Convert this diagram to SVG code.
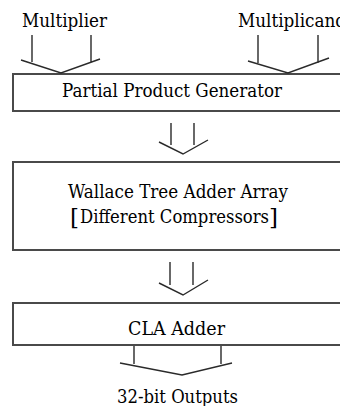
<svg xmlns="http://www.w3.org/2000/svg" width="340" height="406" viewBox="0 0 340 406">
<style>
.box{fill:#fff;stroke:#4a4a4a;stroke-width:2}
.t{font-family:'DejaVu Serif','Liberation Serif',serif;font-size:18px;fill:#000}
.br{font-family:'DejaVu Serif','Liberation Serif',serif;font-size:23px;fill:#000;font-weight:300}
.arr{fill:none;stroke:#2a2a2a;stroke-width:1.4;stroke-linejoin:miter}
</style>
<rect width="340" height="406" fill="#fff"/>
<g id="labels">
<text class="t" x="22" y="27" textLength="85" lengthAdjust="spacingAndGlyphs">Multiplier</text>
<text class="t" x="238" y="27" textLength="108" lengthAdjust="spacingAndGlyphs">Multiplicand</text>
<text class="t" x="117" y="403" textLength="121" lengthAdjust="spacingAndGlyphs">32-bit Outputs</text>
</g>
<g id="ppg">
<rect class="box" x="13" y="74" width="340" height="37"/>
<text class="t" x="62" y="97" textLength="220" lengthAdjust="spacingAndGlyphs">Partial Product Generator</text>
</g>
<g id="wallace">
<rect class="box" x="13" y="162" width="340" height="88"/>
<text class="t" x="68" y="198" textLength="220" lengthAdjust="spacingAndGlyphs">Wallace Tree Adder Array</text>
<text class="br" x="70" y="225">[</text>
<text class="t" x="80" y="223" textLength="189" lengthAdjust="spacingAndGlyphs">Different Compressors</text>
<text class="br" x="269" y="225">]</text>
</g>
<g id="cla">
<rect class="box" x="13" y="303" width="340" height="42"/>
<text class="t" x="128" y="335" textLength="97" lengthAdjust="spacingAndGlyphs">CLA Adder</text>
</g>
<g id="connectors">
<path class="arr" d="M32 35V62M91 35V62M21 60L61 73L100 59"/>
<path class="arr" d="M258 35V63M318 35V63M248 61L288 73L329 58"/>
<path class="arr" d="M171 123V145M194 123V145M159 142L183 154L208 140"/>
<path class="arr" d="M170 262V285M193 262V285M159 283L183 295L208 280"/>
<path class="arr" d="M134 346V364M221 346V364M120 363L182 375L232 363"/>
</g>
</svg>
